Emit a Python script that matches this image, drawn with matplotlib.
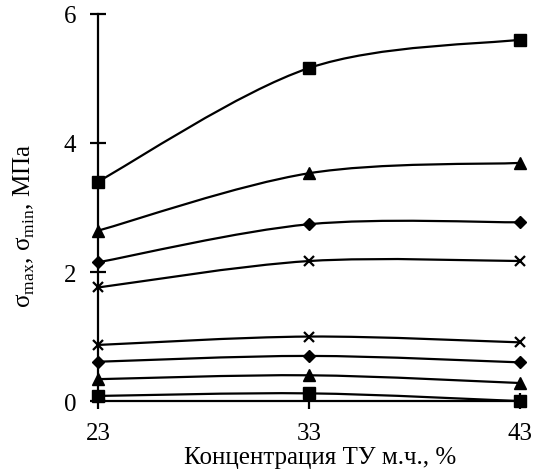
import numpy as np
import matplotlib.pyplot as plt
from matplotlib.path import Path
from matplotlib.patches import PathPatch

plt.rcParams['font.family'] = ['Liberation Serif', 'DejaVu Serif']
plt.rcParams['mathtext.fontset'] = 'custom'
plt.rcParams['mathtext.rm'] = 'Liberation Serif'

conc = [23, 33, 43]

# sigma_max, MPa
max_sq = [3.40, 5.16, 5.60]
max_tri = [2.64, 3.53, 3.69]
max_dia = [2.15, 2.74, 2.77]
max_x = [1.76, 2.17, 2.17]

# sigma_min, MPa
min_sq = [0.08, 0.12, 0.0]
min_tri = [0.34, 0.40, 0.28]
min_dia = [0.61, 0.70, 0.60]
min_x = [0.87, 1.00, 0.91]


def smooth_path(xs, ys):
    # excel-like smoothed line: bezier segments through the points
    pts = np.column_stack([xs, ys]).astype(float)
    ext = np.vstack([pts[0], pts, pts[-1]])
    verts = [pts[0]]
    codes = [Path.MOVETO]
    for i in range(len(pts) - 1):
        p0, p1, p2, p3 = ext[i], ext[i + 1], ext[i + 2], ext[i + 3]
        c1 = p1 + (p2 - p0) / 6
        c2 = p2 - (p3 - p1) / 6
        verts += [c1, c2, p2]
        codes += [Path.CURVE4] * 3
    return Path(verts, codes)


fig = plt.figure(figsize=(5.38, 4.77), dpi=100)
ax = fig.add_axes([0.182, 0.157, 0.785, 0.812])

series = [
    (max_sq, 's', 8.5, 1), (max_tri, '^', 9, 1), (max_dia, 'D', 6.5, 1), (max_x, 'x', 7.5, 1.6),
    (min_sq, 's', 8.5, 1), (min_tri, '^', 9, 1), (min_dia, 'D', 6.5, 1), (min_x, 'x', 7.5, 1.6),
]
for vals, mk, ms, mew in series:
    ax.add_patch(PathPatch(smooth_path(conc, vals), fill=False, edgecolor='black',
                           lw=1.6, clip_on=False, zorder=2))
    ax.plot(conc, vals, ls='none', marker=mk, ms=ms, mew=mew, color='black',
            clip_on=False, zorder=3)

ax.set_xlim(23, 43)
ax.set_ylim(0, 6)
ax.set_xticks(conc)
ax.set_yticks([0, 2, 4, 6])
ax.spines['top'].set_visible(False)
ax.spines['right'].set_visible(False)
ax.spines['left'].set_linewidth(1.6)
ax.spines['bottom'].set_linewidth(1.6)
ax.tick_params(direction='inout', length=11.5, width=1.6, labelsize=18)
ax.tick_params(axis='x', pad=9)
ax.tick_params(axis='y', pad=10)

ax.set_xlabel('Концентрация ТУ м.ч., %', fontsize=18)
ax.xaxis.set_label_coords(0.526, -0.115)
ax.set_ylabel(r'σ$_{\mathrm{max}}$, σ$_{\mathrm{min}}$, МПа', fontsize=18)
ax.yaxis.set_label_coords(-0.145, 0.455)

fig.savefig('out.png', dpi=100)
